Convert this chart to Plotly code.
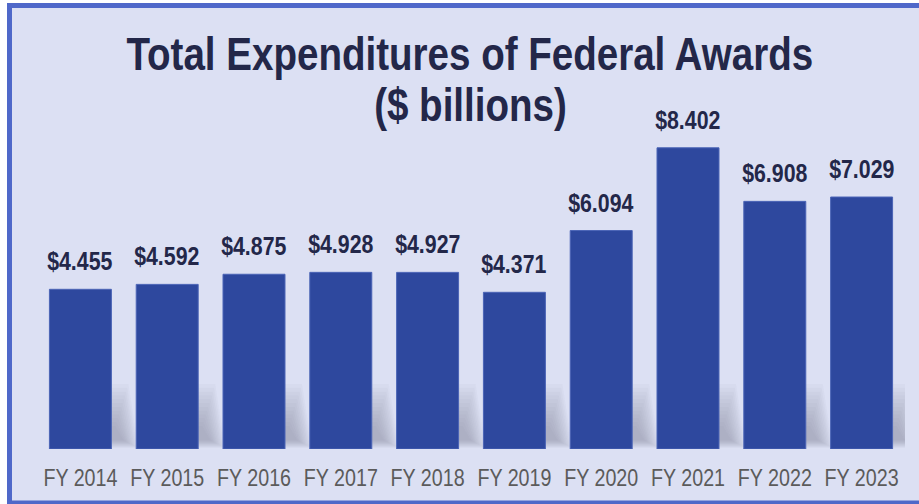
import plotly.graph_objects as go

# Fiscal years and total expenditures of federal awards ($ billions)
years = ["FY 2014", "FY 2015", "FY 2016", "FY 2017", "FY 2018",
         "FY 2019", "FY 2020", "FY 2021", "FY 2022", "FY 2023"]
expenditures = [4.455, 4.592, 4.875, 4.928, 4.927,
                4.371, 6.094, 8.402, 6.908, 7.029]
value_labels = ["$4.455", "$4.592", "$4.875", "$4.928", "$4.927",
                "$4.371", "$6.094", "$8.402", "$6.908", "$7.029"]

W, H = 919, 504
ML, MR, MT, MB = 37, 14, 140, 55
PW, PH = W - ML - MR, H - MT - MB
YMAX = 8.62

BG = "#dce0f3"
BAR = "#2e489e"
NAVY = "#232749"
FONT = "Liberation Sans, Arial, sans-serif"

xs = list(range(len(years)))
half = 0.357  # half bar width in category units
PX_X = len(years) / PW      # data units per pixel, horizontal
PX_Y = YMAX / PH            # data units per pixel, vertical


def px_x(p):
    return (p - ML) / PW


def px_y(p):
    return (H - MB - p) / PH


fig = go.Figure()

# framed lavender panel
fig.add_shape(
    type="rect", xref="paper", yref="paper", layer="below",
    x0=px_x(9.5), x1=px_x(930), y0=px_y(503), y1=px_y(5.5),
    fillcolor=BG, line=dict(color="#4f68c9", width=5),
)

# soft cast shadow behind the lower part of each bar (stacked translucent layers)
N_LAYERS = 12
for i in xs:
    for k in range(N_LAYERS):
        t = k / (N_LAYERS - 1)
        yb = (H - MB - (448 - 8 * t)) * PX_Y
        yt = (H - MB - (384 + 42 * t)) * PX_Y
        ob = (27 - 15 * t) * PX_X
        ot = (17 - 13 * t) * PX_X
        path = (f"M {i - half + ob},{yb} L {i + half + ob},{yb} "
                f"L {i + half + ot},{yt} L {i - half + ot},{yt} Z")
        fig.add_shape(
            type="path", path=path, xref="x", yref="y", layer="below",
            fillcolor="rgba(105,108,130,0.045)", line=dict(width=0),
        )

fig.add_trace(go.Bar(
    x=xs, y=expenditures, width=2 * half,
    marker=dict(color=BAR, line=dict(color="#4b64b6", width=1)),
    showlegend=False, hoverinfo="skip",
))

for i, (v, lab) in enumerate(zip(expenditures, value_labels)):
    fig.add_annotation(
        x=i, y=v, text=lab, showarrow=False,
        yanchor="bottom", yshift=11,
        font=dict(family=FONT, size=26, color=NAVY, weight="bold"),
    )

fig.add_annotation(
    x=px_x(470), y=px_y(54), xref="paper", yref="paper",
    text="Total Expenditures of Federal Awards", showarrow=False,
    yanchor="middle", font=dict(family=FONT, size=47, color=NAVY, weight="bold"),
)
fig.add_annotation(
    x=px_x(470), y=px_y(105), xref="paper", yref="paper",
    text="($ billions)", showarrow=False,
    yanchor="middle", font=dict(family=FONT, size=47, color=NAVY, weight="bold"),
)

fig.update_layout(
    width=W, height=H,
    margin=dict(l=ML, r=MR, t=MT, b=MB, pad=0),
    paper_bgcolor="white", plot_bgcolor="rgba(0,0,0,0)",
    xaxis=dict(
        range=[-0.5, len(years) - 0.5], tickvals=xs, ticktext=years,
        showgrid=False, zeroline=False, showline=False, ticks="",
        tickangle=0, automargin=False, ticklabelstandoff=12,
        tickfont=dict(family=FONT, size=24, color="#5b5b5b"),
    ),
    yaxis=dict(range=[0, YMAX], visible=False, showgrid=False),
)

# condensed lettering: squeeze each text run horizontally around its anchor
condense_js = """
var gd = document.getElementById('{plot_id}');
function condense() {
  gd.querySelectorAll('text').forEach(function (t) {
    if (t.getAttribute('data-cond')) return;
    var w = t.getComputedTextLength();
    if (w > 0) {
      t.setAttribute('textLength', (w * 0.82).toFixed(2));
      t.setAttribute('lengthAdjust', 'spacingAndGlyphs');
      t.setAttribute('data-cond', '1');
    }
  });
}
condense();
gd.on('plotly_afterplot', condense);
"""

fig.write_html("out.html", post_script=condense_js)
